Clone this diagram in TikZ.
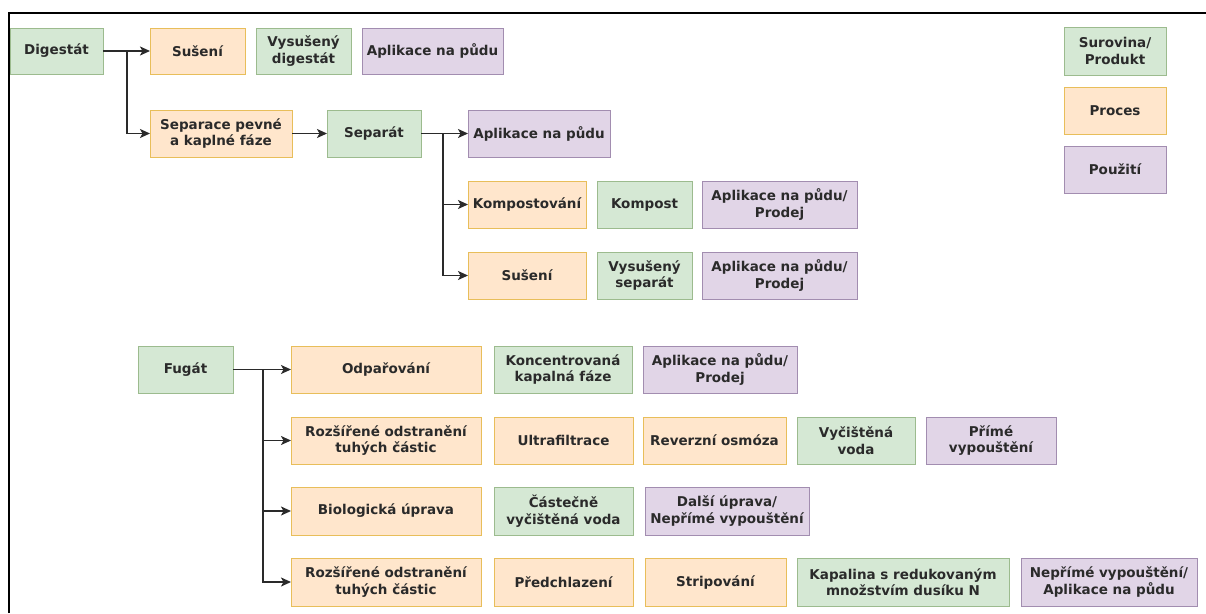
\documentclass[tikz,border=0pt]{standalone}
\usepackage{fontspec}
\setmainfont{DejaVu Sans}
\usetikzlibrary{arrows.meta}
\definecolor{gfill}{HTML}{D5E8D4}
\definecolor{gdraw}{HTML}{9CBB8E}
\definecolor{ofill}{HTML}{FFE6CC}
\definecolor{odraw}{HTML}{E8BE5A}
\definecolor{pfill}{HTML}{E1D5E7}
\definecolor{pdraw}{HTML}{A28DB0}
\definecolor{txt}{HTML}{2A2A2A}
\definecolor{conn}{HTML}{2A2A2A}
\tikzset{
  basebox/.style={inner sep=0pt, outer sep=0pt, line width=1pt, align=center,
    text=txt, font=\fontsize{13.5}{16.5}\selectfont\bfseries},
  gbox/.style={basebox, fill=gfill, draw=gdraw},
  obox/.style={basebox, fill=ofill, draw=odraw},
  pbox/.style={basebox, fill=pfill, draw=pdraw},
  arr/.style={draw=conn, line width=1.6pt, -{Stealth[length=10pt,width=9pt,inset=2.5pt]}},
}
\newcommand\bx[7]{\node[#1, minimum width={(#5-#3)*1pt}, minimum height={(#6-#4)*1pt}] (#2) at ({(#3+#5)/2},{(#4+#6)/2}) {#7};}
\begin{document}
\begin{tikzpicture}[x=1pt,y=-1pt]
\useasboundingbox (0,0) rectangle (1206,613);
\draw[line width=2pt, black] (9,613) -- (9,13) -- (1206,13);
% top section
\bx{gbox}{dig}{10}{28}{103}{74}{Digestát}
\bx{obox}{su1}{150}{28}{245}{74}{Sušení}
\bx{gbox}{vd}{256}{28}{351}{74}{Vysušený\\digestát}
\bx{pbox}{ap1}{362}{28}{503}{74}{Aplikace na půdu}
\bx{obox}{sep}{150}{110}{292}{157}{Separace pevné\\a kaplné fáze}
\bx{gbox}{spt}{327}{110}{421}{157}{Separát}
\bx{pbox}{ap2}{468}{110}{610}{157}{Aplikace na půdu}
\bx{obox}{kom}{468}{181}{586}{228}{Kompostování}
\bx{gbox}{kmp}{597}{181}{692}{228}{Kompost}
\bx{pbox}{ap3}{702}{181}{857}{228}{Aplikace na půdu/\\Prodej}
\bx{obox}{su2}{468}{252}{586}{299}{Sušení}
\bx{gbox}{vs}{597}{252}{692}{299}{Vysušený\\separát}
\bx{pbox}{ap4}{702}{252}{857}{299}{Aplikace na půdu/\\Prodej}
% legend
\bx{gbox}{lg1}{1064}{27}{1166}{75}{Surovina/\\Produkt}
\bx{obox}{lg2}{1064}{87}{1166}{134}{Proces}
\bx{pbox}{lg3}{1064}{146}{1166}{193}{Použití}
% fugat section
\bx{gbox}{fug}{138}{346}{233}{393}{Fugát}
\bx{obox}{odp}{291}{346}{481}{393}{Odpařování}
\bx{gbox}{kon}{494}{346}{632}{393}{Koncentrovaná\\kapalná fáze}
\bx{pbox}{ap5}{643}{346}{797}{393}{Aplikace na půdu/\\Prodej}
\bx{obox}{roz1}{291}{417}{481}{464}{Rozšířené odstranění\\tuhých částic}
\bx{obox}{ult}{494}{417}{633}{464}{Ultrafiltrace}
\bx{obox}{rev}{643}{417}{786}{464}{Reverzní osmóza}
\bx{gbox}{vyc}{797}{417}{915}{464}{Vyčištěná\\voda}
\bx{pbox}{pri}{926}{417}{1056}{464}{Přímé\\vypouštění}
\bx{obox}{bio}{291}{487}{481}{535}{Biologická úprava}
\bx{gbox}{cas}{494}{487}{633}{535}{Částečně\\vyčištěná voda}
\bx{pbox}{dal}{645}{487}{809}{535}{Další úprava/\\Nepřímé vypouštění}
\bx{obox}{roz2}{291}{558}{481}{606}{Rozšířené odstranění\\tuhých částic}
\bx{obox}{pre}{494}{558}{633}{606}{Předchlazení}
\bx{obox}{str}{645}{558}{786}{606}{Stripování}
\bx{gbox}{kap}{797}{558}{1009}{606}{Kapalina s redukovaným\\množstvím dusíku N}
\bx{pbox}{nep}{1021}{558}{1197}{606}{Nepřímé vypouštění/\\Aplikace na půdu}
% connectors
\coordinate (j1) at (127,51);
\coordinate (j2) at (443,133.5);
\coordinate (j3) at (263,369.5);
\draw[arr] (dig.east) -- (su1.west);
\draw[arr] (j1) |- (sep.west);
\draw[arr] (sep.east) -- (spt.west);
\draw[arr] (spt.east) -- (ap2.west);
\draw[arr] (j2) |- (kom.west);
\draw[arr] (j2) |- (su2.west);
\draw[arr] (fug.east) -- (odp.west);
\draw[arr] (j3) |- (roz1.west);
\draw[arr] (j3) |- (bio.west);
\draw[arr] (j3) |- (roz2.west);
\end{tikzpicture}
\end{document}
